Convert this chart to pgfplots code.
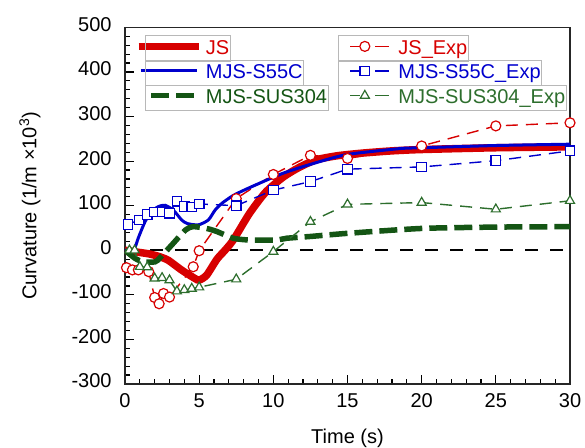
\documentclass[border=0pt]{standalone}
\usepackage{fontspec}
\setmainfont{Liberation Sans}
\usepackage{pgfplots}
\pgfplotsset{compat=1.18}
\definecolor{jsred}{RGB}{215,0,0}
\definecolor{sblue}{RGB}{0,0,205}
\definecolor{sgreen}{RGB}{20,85,20}
\definecolor{egreen}{RGB}{45,110,45}
\newcommand{\legbox}[2]{{\color{black!28}\setlength{\fboxsep}{0pt}\setlength{\fboxrule}{0.5bp}\fbox{\color{#1}\hspace*{29.7bp}#2\rule[-3.2bp]{0pt}{12.2bp}\hspace*{0.3bp}}}}
\pgfplotsset{
  legjs/.style={legend image code/.code={\path (0,0); \draw[##1, overlay] (-1.5bp,0) -- (28.5bp,0);}},
  legs/.style={legend image code/.code={\path (0,0); \draw[##1, overlay] (-0.5bp,0) -- (27.5bp,0);}},
  legsus/.style={legend image code/.code={\path (0,0); \draw[##1, overlay] (4.85bp,0) -- (26.4bp,0);}},
  legexp/.style={legend image code/.code={\path (0,0);
    \draw[##1, overlay, solid] (6.5bp,0) -- (11.25bp,0) (19bp,0) -- (26bp,0);
    \draw[##1, overlay] plot[only marks] coordinates {(13.75bp,0)};}},
}
\begin{document}
\fontsize{10bp}{12bp}\selectfont
\begin{tikzpicture}
\begin{axis}[
  at={(0,0)}, anchor=south west,
  scale only axis, width=222.5bp, height=178.3bp,
  xmin=0, xmax=30, ymin=-300, ymax=500,
  xtick={0,5,...,30}, ytick={-300,-200,...,500},
  minor x tick num=4, minor y tick num=4,
  tick align=inside, xtick pos=bottom, ytick pos=left,
  major tick length=4.5bp, minor tick length=2.5bp,
  axis line style={line width=0.75bp, black!85},
  tick style={line width=0.6bp, black},
  /pgf/number format/assume math mode=true,
  yticklabel style={xshift=-3.2bp, yshift=1.5bp},
  xticklabel style={yshift=-1.2bp},
  every axis y label/.style={at={(axis description cs:-0.2135,0.5)}, rotate=90, anchor=center},
  every axis x label/.style={at={(axis description cs:0.5,-0.1514)}, anchor=center},
  xlabel={Time (s)},
  ylabel={Curvature (1/m ×10\textsuperscript{3})},
  legend columns=2,
  legend cell align=left,
  legend style={at={(axis description cs:0.0292,0.9776)}, anchor=north west,
    draw=none, fill=none, inner sep=0pt, outer sep=0pt,
    row sep=1.3bp, column sep=0pt,
    /tikz/every even column/.append style={column sep=4bp},
    nodes={inner sep=0pt, anchor=west, outer sep=0pt}},
]
\addplot[black, line width=1bp, dash pattern=on 6.5bp off 6bp, forget plot] coordinates {(0,0) (30,0)};

\addplot[jsred, line width=3.75bp, smooth, tension=0.4, legjs]
coordinates {(0,0) (1,-5) (1.6,-8) (2.2,-13) (2.9,-22) (3.8,-44) (4.7,-63) (5.0,-67) (5.5,-56) (6.2,-20) (6.74,0) (7.3,23) (8.4,83) (9.5,131) (10.7,165) (11.8,187) (12.9,203) (14.3,212) (16,218) (18,223) (20,226) (25,230) (30,232)};
\addlegendentry{\legbox{jsred}{JS}}

\addplot[jsred, line width=0.7bp, dash pattern=on 6bp off 4bp, mark=*, mark size=2.5bp,
  mark options={solid, fill=white, line width=0.6bp}, legexp]
coordinates {(0.1,-39) (0.5,-44) (0.9,-44) (1.6,-48) (2.0,-106) (2.3,-120) (2.6,-97) (3.0,-105) (4.6,-37) (5.0,-1) (7.5,116) (10,170) (12.5,213) (15,206) (20,234) (25,279) (30,286)};
\addlegendentry{\legbox{jsred}{JS\_Exp}}

\addplot[sblue, line width=1.5bp, smooth, tension=0.4, legs]
coordinates {(0,0) (0.6,2) (0.9,28) (1.35,64) (1.8,87) (2.25,98) (2.7,101) (3.26,90) (3.82,68) (4.2,60) (4.94,57) (5.62,68) (6.07,90) (6.52,105) (7.3,123) (8.43,141) (10.67,173) (12.93,197) (15,215) (18.5,228) (20,230) (25,235) (30,238)};
\addlegendentry{\legbox{sblue}{MJS-S55C}}

\addplot[sblue, line width=0.7bp, dash pattern=on 6bp off 4bp, mark=square*, mark size=2.4bp,
  mark options={solid, fill=white, line width=0.6bp}, legexp]
coordinates {(0.2,58) (0.95,68) (1.5,80) (2.0,86) (2.5,86) (3.0,83) (3.5,110) (4.0,98) (4.5,97) (5.0,104) (7.5,100) (10,135) (12.5,154) (15,182) (20,187) (25,201) (30,223)};
\addlegendentry{\legbox{sblue}{MJS-S55C\_Exp}}

\addplot[sgreen, line width=2.75bp, dash pattern=on 9bp off 3.5bp, smooth, tension=0.4, legsus]
coordinates {(0,0) (0.67,-18) (1.23,-26) (2.02,-26) (2.36,-17) (3.1,10) (4.1,46) (4.6,53) (5.5,49) (6.2,42) (7.3,27) (8.4,23) (10.2,23) (10.9,27) (12.5,31) (15,38) (20,49) (25,52) (30,53)};
\addlegendentry{\legbox{sgreen}{MJS-SUS304}}

\addplot[egreen, line width=0.7bp, dash pattern=on 6bp off 4bp, mark=triangle*, mark size=2.6bp,
  mark options={solid, fill=white, line width=0.6bp}, legexp]
coordinates {(0.3,0) (0.65,0) (1.0,-37) (1.5,-38) (2.0,-63) (2.5,-62) (3.0,-67) (3.5,-92) (4.0,-89) (4.5,-86) (5.0,-83) (7.5,-65) (10,-3) (12.5,64) (15,103) (20,107) (25,92) (30,111)};
\addlegendentry{\legbox{egreen}{MJS-SUS304\_Exp}}
\end{axis}
\pgfresetboundingbox
\path (-62.5bp,-32bp) rectangle (230bp,192bp);
\end{tikzpicture}
\end{document}
